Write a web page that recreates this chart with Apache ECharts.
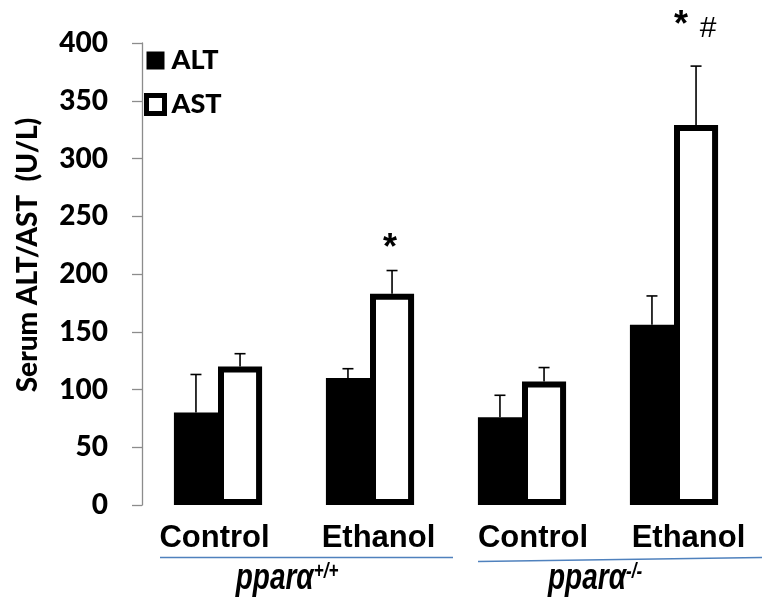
<!DOCTYPE html>
<html>
<head>
<meta charset="utf-8">
<script src="https://cdn.jsdelivr.net/npm/echarts@6/dist/echarts.min.js"></script>
<style>html,body{margin:0;padding:0;background:#fff}#c{width:762px;height:598px}</style>
</head>
<body>
<div id="c"></div>
<script>
var categories = ['Control', 'Ethanol', 'Control', 'Ethanol'];
var altMean = [80, 110, 76, 156];
var altSD = [33, 8, 19, 25];
var astMean = [120, 183, 107, 329];
var astSD = [11, 20, 12, 51];
var astStar = ['', '*', '', '*'];
var astHash = ['', '', '', '#'];
var genotypes = [{base: 'pparα', sup: '+/+'}, {base: 'pparα', sup: '-/-'}];
var yAxisTitle = 'Serum ALT/AST  (U/L)';
var yMin = 0, yMax = 400, yStep = 50;

var BAR_FRAC = 0.29;
var labelShift = [-3.5, 8.5, 11, 14.5];

function errData(mean, sd, marks1, marks2) {
  return mean.map(function (m, i) { return [i, m, m + sd[i], marks1 ? marks1[i] : '', marks2 ? marks2[i] : '']; });
}

function errRender(sign) {
  return function (params, api) {
    var i = api.value(0);
    var base = api.coord([i, api.value(1)]);
    var top = api.coord([i, api.value(2)]);
    var band = api.size([1, 0])[0];
    var x = base[0] + sign * band * BAR_FRAC / 2;
    var cap = 5.5;
    var star = api.value(3), hash = api.value(4);
    var children = [
      {type: 'line', shape: {x1: x, y1: base[1], x2: x, y2: top[1]}, style: {stroke: '#000', lineWidth: 1.6}},
      {type: 'line', shape: {x1: x - cap, y1: top[1], x2: x + cap, y2: top[1]}, style: {stroke: '#000', lineWidth: 1.6}}
    ];
    if (star && hash) {
      children.push({type: 'text', x: x - 15, y: top[1] - 40, style: {text: star, font: 'bold 36px "Liberation Sans"', fill: '#000', align: 'center', verticalAlign: 'middle'}});
      children.push({type: 'text', x: x + 12, y: top[1] - 37, style: {text: hash, font: '30px "Liberation Sans"', fill: '#000', align: 'center', verticalAlign: 'middle'}});
    } else if (star) {
      children.push({type: 'text', x: x - 2, y: top[1] - 21, style: {text: star, font: 'bold 36px "Liberation Sans"', fill: '#000', align: 'center', verticalAlign: 'middle'}});
    }
    return {type: 'group', children: children};
  };
}

var rich = {};
labelShift.forEach(function (s, i) {
  rich['l' + i] = {
    fontFamily: 'Liberation Sans', fontWeight: 'bold', fontSize: 31, color: '#000',
    padding: s >= 0 ? [0, 0, 0, 2 * s] : [0, -2 * s, 0, 0]
  };
});

var chart = echarts.init(document.getElementById('c'), null, {renderer: 'canvas'});
chart.setOption({
  animation: false,
  backgroundColor: '#fff',
  grid: {left: 142, right: 12, top: 43, bottom: 93, containLabel: false},
  legend: {
    orient: 'vertical', left: 139, top: 42, itemWidth: 18, itemHeight: 18, itemGap: 17,
    textStyle: {fontFamily: 'Lato', fontWeight: 900, fontSize: 27, color: '#000', padding: [0, 0, 0, 2]},
    data: [
      {name: 'ALT', icon: 'rect', itemStyle: {color: '#000', borderWidth: 0}},
      {name: 'AST', icon: 'rect', itemStyle: {color: '#fff', borderColor: '#000', borderWidth: 5}}
    ]
  },
  xAxis: {
    type: 'category', data: categories,
    axisLine: {show: false}, axisTick: {show: false},
    axisLabel: {
      margin: 18, interval: 0,
      formatter: function (v, i) { return '{l' + i + '|' + v + '}'; },
      rich: rich
    }
  },
  yAxis: {
    type: 'value', min: yMin, max: yMax, interval: yStep,
    axisLine: {show: true, lineStyle: {color: '#8c8c8c', width: 1.3}},
    axisTick: {show: true, inside: false, length: 10, lineStyle: {color: '#8c8c8c', width: 1.3}},
    splitLine: {show: false},
    axisLabel: {margin: 34, fontFamily: 'Lato', fontWeight: 900, fontSize: 28, color: '#000'}
  },
  series: [
    {name: 'ALT', type: 'bar', data: altMean, barWidth: (BAR_FRAC * 100) + '%', barGap: '0%',
      itemStyle: {color: '#000'}},
    {name: 'AST', type: 'bar', data: astMean, barWidth: (BAR_FRAC * 100) + '%', barGap: '0%',
      itemStyle: {color: '#fff', borderColor: '#000', borderWidth: 6}},
    {name: 'ALT err', type: 'custom', renderItem: errRender(-1), data: errData(altMean, altSD), z: 5,
      encode: {x: 0, y: [1, 2]}},
    {name: 'AST err', type: 'custom', renderItem: errRender(1), data: errData(astMean, astSD, astStar, astHash), z: 5,
      encode: {x: 0, y: [1, 2]}}
  ],
  graphic: [
    {type: 'line', shape: {x1: 160, y1: 557.5, x2: 453, y2: 557.5}, style: {stroke: '#4f81bd', lineWidth: 1.6}},
    {type: 'line', shape: {x1: 478, y1: 561.5, x2: 762, y2: 557.5}, style: {stroke: '#4f81bd', lineWidth: 1.6}},
    {type: 'text', x: 28, y: 255, rotation: Math.PI / 2,
      style: {text: yAxisTitle, font: '900 28px Lato', fill: '#000', align: 'center', verticalAlign: 'middle'}},
    {type: 'text', x: 287, y: 561, scaleY: 1.3,
      style: {text: '{m|' + genotypes[0].base + '}{s|' + genotypes[0].sup + '}', align: 'center', verticalAlign: 'top',
        rich: {m: {font: 'italic bold 28px "Liberation Sans"', fill: '#000'},
               s: {font: 'italic bold 17px "Liberation Sans"', fill: '#000', verticalAlign: 'top', padding: [0, 0, 10, 0]}}}},
    {type: 'text', x: 595, y: 561, scaleY: 1.3,
      style: {text: '{m|' + genotypes[1].base + '}{s|' + genotypes[1].sup + '}', align: 'center', verticalAlign: 'top',
        rich: {m: {font: 'italic bold 28px "Liberation Sans"', fill: '#000'},
               s: {font: 'italic bold 17px "Liberation Sans"', fill: '#000', verticalAlign: 'top', padding: [0, 0, 10, 0]}}}}
  ]
});
</script>
</body>
</html>
